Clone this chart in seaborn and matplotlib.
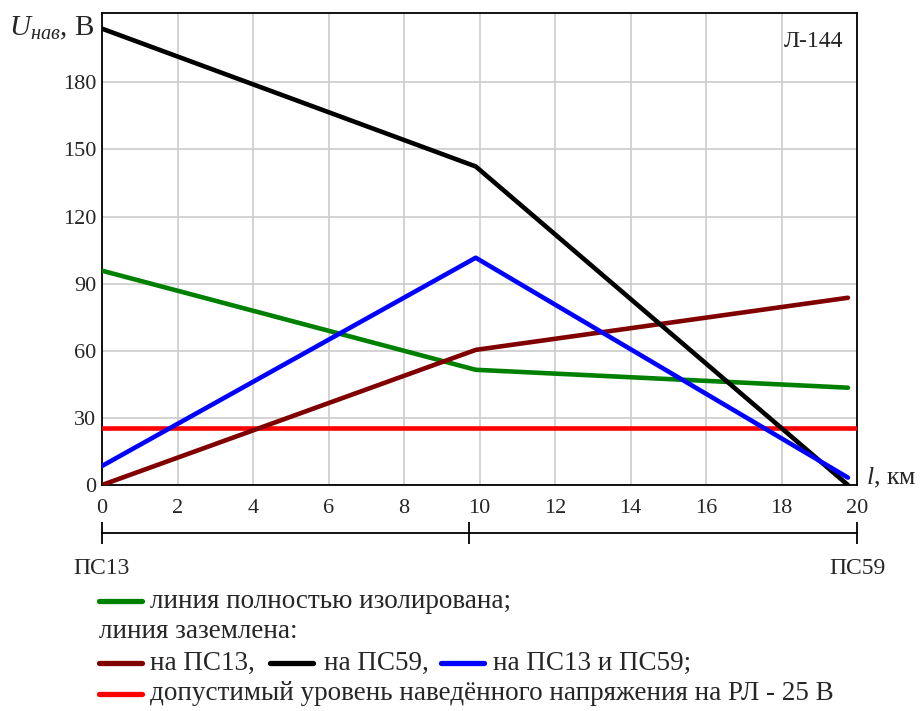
import matplotlib
matplotlib.use("Agg")
import matplotlib.pyplot as plt
from matplotlib.lines import Line2D
import seaborn as sns
import pandas as pd

# ---- data ----
distance_km = [0, 9.9, 19.76]
isolated = [95.8, 51.5, 43.5]          # линия полностью изолирована
grounded_ps13 = [0, 60.4, 83.7]        # заземлена на ПС13
grounded_ps59 = [204, 142.4, 0]        # заземлена на ПС59
grounded_both = [8.5, 101.6, 3.3]      # заземлена на ПС13 и ПС59
limit_x = [0, 20]
limit_y = [25.5, 25.5]                 # допустимый уровень

x_ticks = [0, 2, 4, 6, 8, 10, 12, 14, 16, 18, 20]
y_ticks = [0, 30, 60, 90, 120, 150, 180]
station_pos = [0, 9.72, 20]
station_labels = ["ПС13", "", "ПС59"]

colors = {"green": "#008000", "brown": "#800000", "black": "#000000",
          "blue": "#0000ff", "red": "#ff0000"}

sns.set_style("white")
plt.rcParams['font.family'] = ['Liberation Serif', 'DejaVu Serif']
plt.rcParams['mathtext.fontset'] = 'custom'
plt.rcParams['mathtext.it'] = 'Liberation Serif:italic'
plt.rcParams['mathtext.rm'] = 'Liberation Serif'

fig = plt.figure(figsize=(9.22, 7.11), dpi=100)
W, H = 922, 711
L, R, T, B = 102, 857, 13, 485
ax = fig.add_axes([L / W, 1 - B / H, (R - L) / W, (B - T) / H])

lw = 3.3
series = [(isolated, "green"), (grounded_ps13, "brown"),
          (grounded_ps59, "black"), (grounded_both, "blue")]
sns.lineplot(x=limit_x, y=limit_y, ax=ax, color=colors["red"], lw=lw, zorder=3)
for vals, c in series:
    df = pd.DataFrame({"x": distance_km, "y": vals})
    sns.lineplot(data=df, x="x", y="y", ax=ax, color=colors[c], lw=lw,
                 zorder=4, sort=False)

ax.set_xlim(0, 20)
ax.set_ylim(0, 211)
ax.set_xticks(x_ticks)
ax.set_yticks(y_ticks)
ax.set_xticklabels([str(v) for v in x_ticks])
ax.set_yticklabels([str(v) for v in y_ticks])
ax.grid(True, color="#cccccc", lw=1.2)
ax.set_axisbelow(True)
for s in ax.spines.values():
    s.set_color("black")
    s.set_linewidth(1.3)
ax.tick_params(axis="both", length=0, labelsize=16)
ax.tick_params(axis="x", pad=10)
ax.tick_params(axis="y", pad=4)
ax.set_xlabel("")
ax.set_ylabel("")

# axis titles
fig.text(9 / W, 1 - 28 / H, r"$U_{нав}$, В", fontsize=21, va="center", ha="left")
fig.text(866 / W, 1 - 478 / H, r"$l$, км", fontsize=18.5, va="center", ha="left")
ax.text(0.982, 0.962, "Л-144", transform=ax.transAxes, ha="right", va="top",
        fontsize=17)

# station bar
ax2 = fig.add_axes([L / W, 1 - 533 / H, (R - L) / W, 0.001])
ax2.set_xlim(0, 20)
ax2.set_facecolor("none")
for name, s in ax2.spines.items():
    s.set_visible(name == "bottom")
ax2.spines["bottom"].set_linewidth(1.3)
ax2.spines["bottom"].set_color("black")
ax2.set_yticks([])
ax2.set_xticks(station_pos)
ax2.set_xticklabels(station_labels)
ax2.tick_params(axis="x", bottom=True, direction="inout", length=16, width=1.3,
                color="black", labelsize=17, pad=10)

# legend
lx0, tx = 99, 150
rows = [601, 632, 663, 694]
fs = 19.5

def leg_line(x0, y, c):
    fig.add_artist(Line2D([x0 / W, (x0 + 43) / W], [1 - y / H, 1 - y / H],
                          color=colors[c], lw=lw + 0.5, transform=fig.transFigure))

def leg_text(x, y, s):
    fig.text(x / W, 1 - y / H, s, fontsize=fs, va="center", ha="left")

leg_line(lx0, rows[0], "green")
leg_text(tx, rows[0], "линия полностью изолирована;")
leg_text(lx0, rows[1], "линия заземлена:")
leg_line(lx0, rows[2], "brown")
leg_text(tx, rows[2], "на ПС13,")
leg_line(270, rows[2], "black")
leg_text(324, rows[2], "на ПС59,")
leg_line(441, rows[2], "blue")
leg_text(493, rows[2], "на ПС13 и ПС59;")
leg_line(lx0, rows[3], "red")
leg_text(tx, rows[3], "допустимый уровень наведённого напряжения на РЛ - 25 В")

fig.savefig("out.png", dpi=100)
